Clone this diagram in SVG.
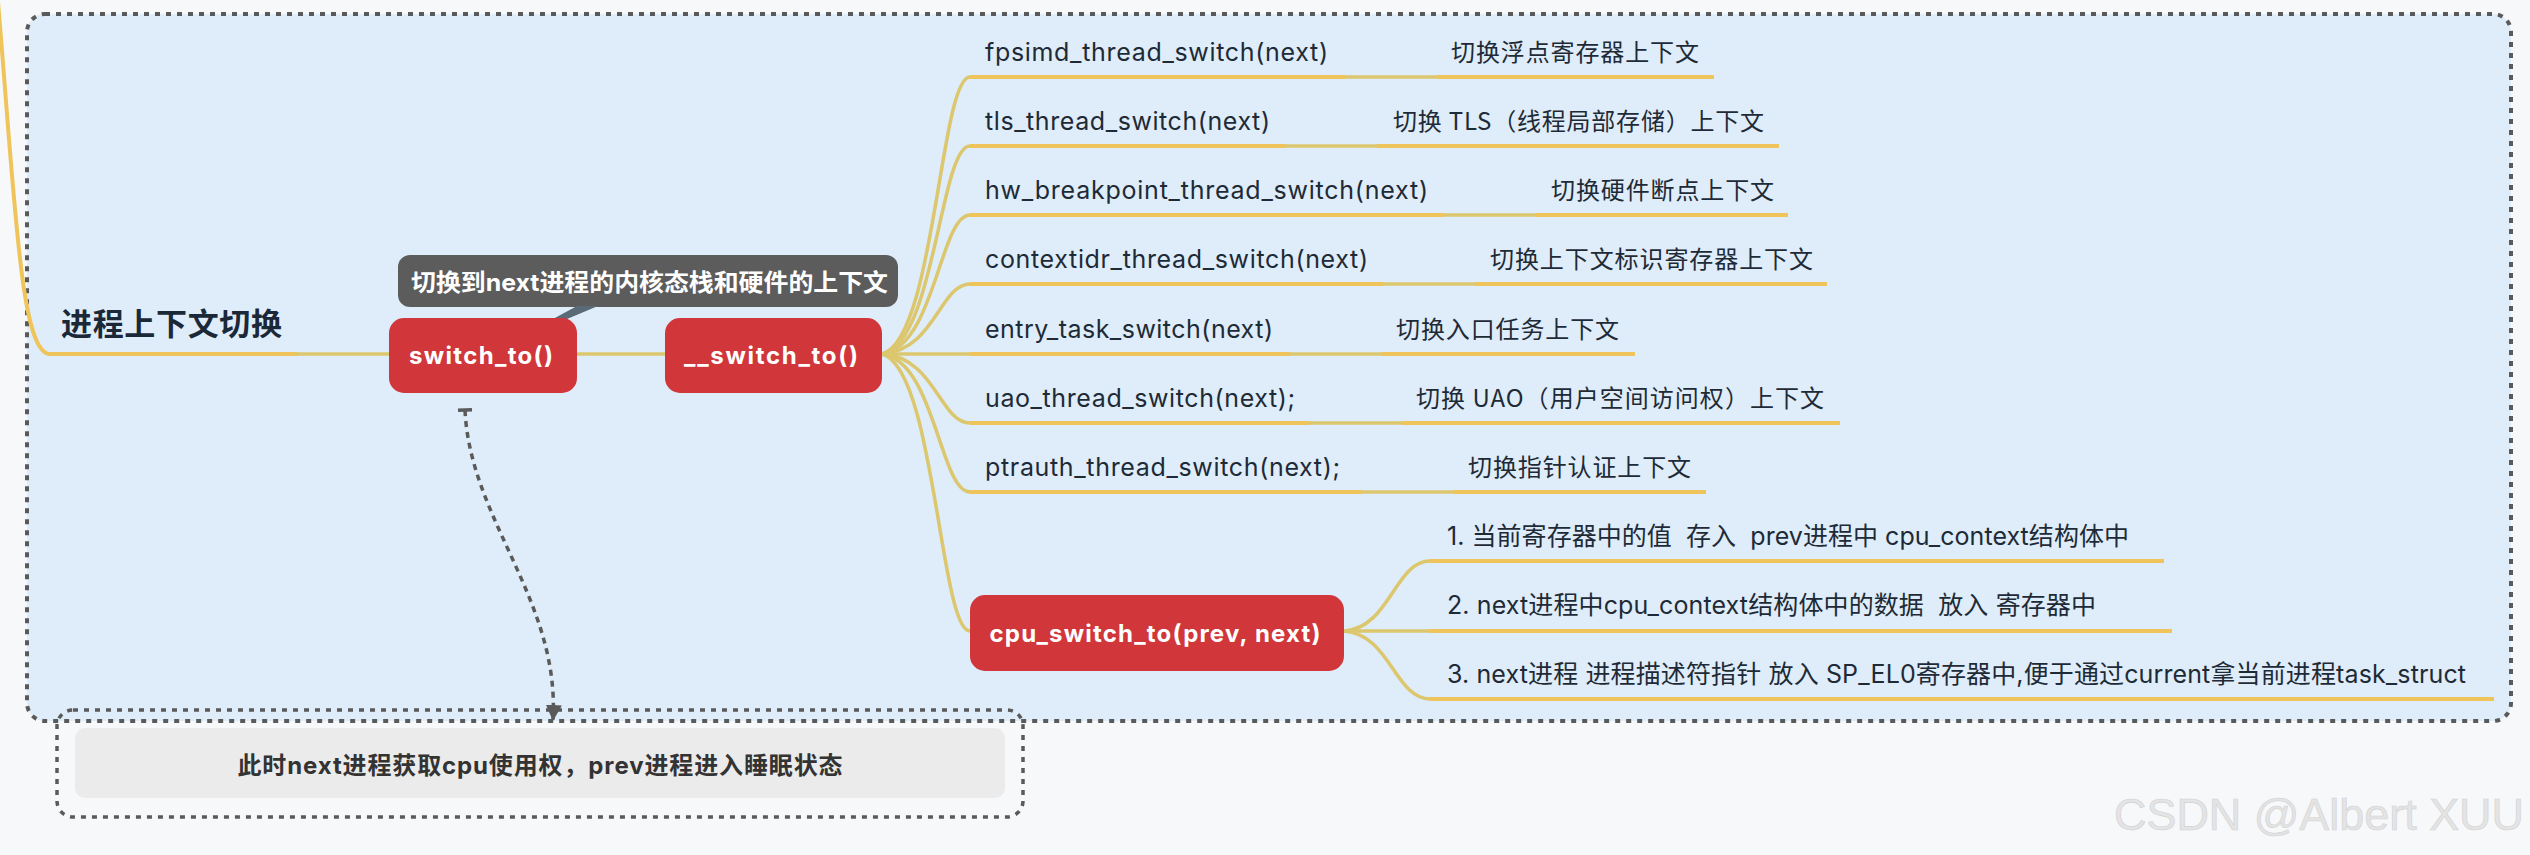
<svg xmlns="http://www.w3.org/2000/svg" width="2530" height="855" viewBox="0 0 2530 855">
<style>
.bg{fill:#f7f8fa}
.boundary{fill:#deedf9;stroke:#5a5a5a;stroke-width:4;stroke-dasharray:5 6}
.boundary2{fill:none;stroke:#5a5a5a;stroke-width:3.5;stroke-dasharray:5 6}
.branch{fill:none;stroke:#dcc76e;stroke-width:3.5;stroke-linecap:round}
.ul{fill:none;stroke:#efc55b;stroke-width:4}
.node{fill:#d1363a}
.nt{font-family:Inter,"Noto Sans CJK SC",sans-serif;font-weight:700;font-size:24px;fill:#ffffff;text-anchor:middle}
.lt{font-family:Inter,"Noto Sans CJK SC",sans-serif;font-size:25px;fill:#1f2a37}
.ct{font-family:"Noto Sans CJK SC",sans-serif;font-size:24px;fill:#1f2a37}
.title{font-family:"Noto Sans CJK SC",sans-serif;font-weight:700;font-size:31px;fill:#1b2838}
.callout{fill:#5c5c5c}
.callt{font-family:Inter,"Noto Sans CJK SC",sans-serif;font-weight:700;font-size:24px;fill:#ffffff}
.rel{fill:none;stroke:#5a5a5a;stroke-width:3.5;stroke-dasharray:6 5}
.note{font-family:Inter,"Noto Sans CJK SC",sans-serif;font-weight:700;font-size:24px;fill:#333333;text-anchor:middle}
.wm{font-family:"Liberation Sans",sans-serif;font-size:44px;fill:#e4e4e4;stroke:#d2d2d2;stroke-width:0.6}
</style>
<defs>
<marker id="arrowEnd" markerUnits="userSpaceOnUse" viewBox="0 0 16 16" refX="15" refY="8" markerWidth="16" markerHeight="16" orient="auto">
<path d="M0,0 L16,8 L0,16 Z" fill="#5a5a5a"/>
</marker>
<marker id="tee" markerUnits="userSpaceOnUse" viewBox="-3 -9 6 18" refX="0" refY="0" markerWidth="6" markerHeight="18" orient="auto">
<path d="M0,-7 L0,7" stroke="#5a5a5a" stroke-width="3.5"/>
</marker>
</defs>

<rect class="bg" x="0" y="0" width="2530" height="855"/>

<g id="boundary-main">
<rect class="boundary" x="27" y="14" width="2484" height="707" rx="18"/>
</g>

<g id="node-note">
<rect class="boundary2" x="57" y="710" width="966" height="107" rx="16"/>
<rect x="75" y="728" width="930" height="70" rx="10" fill="#ebebeb"/>
<text class="note" x="540" y="774" textLength="605" lengthAdjust="spacing">此时next进程获取cpu使用权，prev进程进入睡眠状态</text>
</g>

<g id="connectors">
<path class="ul" d="M-3,-10 C15,200 20,354 50,354 L297,354"/>
<path class="branch" d="M297,354 L389,354"/>
<path class="branch" d="M577,354 L665,354"/>
<path class="branch" d="M882,354 C935,340 940,77 970,77"/>
<path class="branch" d="M882,354 C935,344 940,146 970,146"/>
<path class="branch" d="M882,354 C935,347 940,215 970,215"/>
<path class="branch" d="M882,354 C935,350 940,284 970,284"/>
<path class="branch" d="M882,354 L970,354"/>
<path class="branch" d="M882,354 C935,357 940,423 970,423"/>
<path class="branch" d="M882,354 C935,361 940,492 970,492"/>
<path class="branch" d="M882,354 C935,368 940,631 970,631"/>
<path class="branch" d="M1345,77 L1437,77"/>
<path class="branch" d="M1286,146 L1377,146"/>
<path class="branch" d="M1444,215 L1536,215"/>
<path class="branch" d="M1383,284 L1475,284"/>
<path class="branch" d="M1290,354 L1382,354"/>
<path class="branch" d="M1310,423 L1402,423"/>
<path class="branch" d="M1362,492 L1454,492"/>
<path class="branch" d="M1344,631 C1390,628 1395,561 1430,561"/>
<path class="branch" d="M1344,631 L1430,631"/>
<path class="branch" d="M1344,631 C1390,634 1395,699 1430,699"/>
<path class="rel" d="M465,410 C470,520 560,600 553,720" marker-start="url(#tee)" marker-end="url(#arrowEnd)"/>
</g>

<g id="node-title">
<text class="title" x="61" y="335" textLength="221" lengthAdjust="spacing">进程上下文切换</text>
</g>

<g id="node-callout">
<rect class="callout" x="398" y="255" width="500" height="52" rx="12"/>
<polygon points="577,306 598,306 567,319 553,319" fill="#5a6b78"/>
<text class="callt" x="411" y="291" textLength="477" lengthAdjust="spacingAndGlyphs">切换到next进程的内核态栈和硬件的上下文</text>
</g>

<g id="node-switch_to">
<rect class="node" x="389" y="318" width="188" height="75" rx="15"/>
<text class="nt" x="481" y="364" textLength="144" lengthAdjust="spacing">switch_to()</text>
</g>

<g id="node-__switch_to">
<rect class="node" x="665" y="318" width="217" height="75" rx="15"/>
<text class="nt" x="771" y="364" textLength="174" lengthAdjust="spacing">__switch_to()</text>
</g>

<g id="node-fpsimd">
<path class="ul" d="M970,77 L1345,77"/>
<text class="lt" x="985" y="61" textLength="343" lengthAdjust="spacing">fpsimd_thread_switch(next)</text>
</g>
<g id="node-fpsimd-desc">
<path class="ul" d="M1437,77 L1714,77"/>
<text class="ct" x="1451" y="61" textLength="248" lengthAdjust="spacing">切换浮点寄存器上下文</text>
</g>

<g id="node-tls">
<path class="ul" d="M970,146 L1286,146"/>
<text class="lt" x="985" y="130" textLength="285" lengthAdjust="spacing">tls_thread_switch(next)</text>
</g>
<g id="node-tls-desc">
<path class="ul" d="M1377,146 L1779,146"/>
<text class="ct" x="1393" y="130" textLength="371" lengthAdjust="spacing">切换 TLS（线程局部存储）上下文</text>
</g>

<g id="node-hw">
<path class="ul" d="M970,215 L1444,215"/>
<text class="lt" x="985" y="199" textLength="443" lengthAdjust="spacing">hw_breakpoint_thread_switch(next)</text>
</g>
<g id="node-hw-desc">
<path class="ul" d="M1536,215 L1788,215"/>
<text class="ct" x="1551" y="199" textLength="223" lengthAdjust="spacing">切换硬件断点上下文</text>
</g>

<g id="node-contextidr">
<path class="ul" d="M970,284 L1383,284"/>
<text class="lt" x="985" y="268" textLength="383" lengthAdjust="spacing">contextidr_thread_switch(next)</text>
</g>
<g id="node-contextidr-desc">
<path class="ul" d="M1475,284 L1827,284"/>
<text class="ct" x="1490" y="268" textLength="323" lengthAdjust="spacing">切换上下文标识寄存器上下文</text>
</g>

<g id="node-entry">
<path class="ul" d="M970,354 L1290,354"/>
<text class="lt" x="985" y="338" textLength="288" lengthAdjust="spacing">entry_task_switch(next)</text>
</g>
<g id="node-entry-desc">
<path class="ul" d="M1382,354 L1635,354"/>
<text class="ct" x="1396" y="338" textLength="223" lengthAdjust="spacing">切换入口任务上下文</text>
</g>

<g id="node-uao">
<path class="ul" d="M970,423 L1310,423"/>
<text class="lt" x="985" y="407" textLength="310" lengthAdjust="spacing">uao_thread_switch(next);</text>
</g>
<g id="node-uao-desc">
<path class="ul" d="M1402,423 L1840,423"/>
<text class="ct" x="1416" y="407" textLength="408" lengthAdjust="spacing">切换 UAO（用户空间访问权）上下文</text>
</g>

<g id="node-ptrauth">
<path class="ul" d="M970,492 L1362,492"/>
<text class="lt" x="985" y="476" textLength="355" lengthAdjust="spacing">ptrauth_thread_switch(next);</text>
</g>
<g id="node-ptrauth-desc">
<path class="ul" d="M1454,492 L1706,492"/>
<text class="ct" x="1468" y="476" textLength="223" lengthAdjust="spacing">切换指针认证上下文</text>
</g>

<g id="node-cpu_switch_to">
<rect class="node" x="970" y="595" width="374" height="76" rx="15"/>
<text class="nt" x="1155" y="642" textLength="331" lengthAdjust="spacing">cpu_switch_to(prev, next)</text>
</g>

<g id="node-step1">
<path class="ul" d="M1430,561 L2164,561"/>
<text class="lt" x="1447" y="545" textLength="682" lengthAdjust="spacing" xml:space="preserve">1. 当前寄存器中的值  存入  prev进程中 cpu_context结构体中</text>
</g>
<g id="node-step2">
<path class="ul" d="M1430,631 L2172,631"/>
<text class="lt" x="1447" y="614" textLength="649" lengthAdjust="spacing" xml:space="preserve">2. next进程中cpu_context结构体中的数据  放入 寄存器中</text>
</g>
<g id="node-step3">
<path class="ul" d="M1430,699 L2494,699"/>
<text class="lt" x="1447" y="683" textLength="1019" lengthAdjust="spacing">3. next进程 进程描述符指针 放入 SP_EL0寄存器中,便于通过current拿当前进程task_struct</text>
</g>

<text class="wm" x="2114" y="830" textLength="410" lengthAdjust="spacingAndGlyphs">CSDN @Albert XUU</text>
</svg>
